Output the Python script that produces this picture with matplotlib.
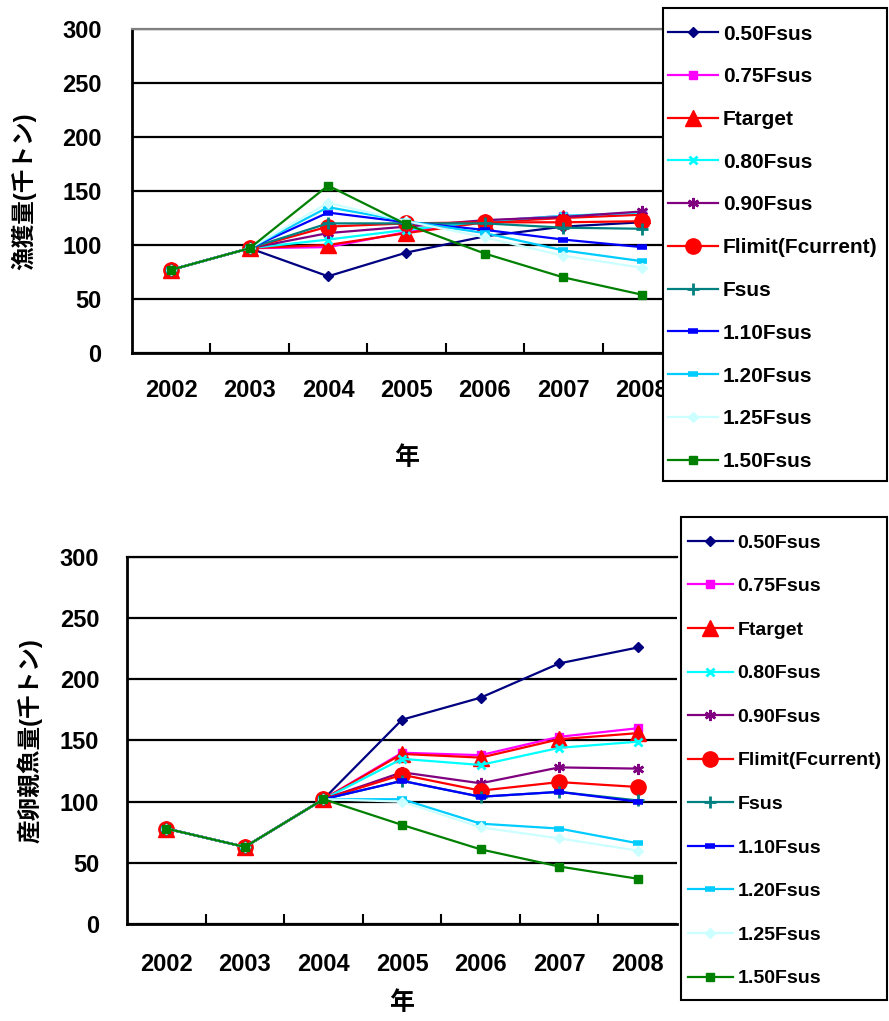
import numpy as np
import matplotlib
matplotlib.use('Agg')
import matplotlib.pyplot as plt
from matplotlib.patches import Rectangle

plt.rcParams['font.family'] = ['Liberation Sans', 'Noto Sans CJK JP', 'DejaVu Sans']

#------------------------------------------------------------------------------
# data
years = ['2002', '2003', '2004', '2005', '2006', '2007', '2008']
names = ['0.50Fsus', '0.75Fsus', 'Ftarget', '0.80Fsus', '0.90Fsus',
         'Flimit(Fcurrent)', 'Fsus', '1.10Fsus', '1.20Fsus', '1.25Fsus', '1.50Fsus']

# catch (thousand t)
catch_050 = [77, 97, 71, 93, 108, 117, 121]
catch_075 = [77, 97, 98, 112, 122, 127, 129]
catch_ftg = [77, 97, 100, 111, 121, 125, 128]
catch_080 = [77, 97, 105, 114, 122, 127, 130]
catch_090 = [77, 97, 111, 117, 123, 126, 131]
catch_flm = [77, 97, 117, 120, 121, 121, 122]
catch_fsus = [77, 97, 120, 120, 120, 116, 115]
catch_110 = [77, 97, 130, 121, 114, 105, 98]
catch_120 = [77, 97, 135, 122, 111, 95, 85]
catch_125 = [77, 97, 139, 122, 107, 90, 79]
catch_150 = [77, 97, 155, 119, 92, 70, 54]

# spawning stock biomass (thousand t)
ssb_050 = [78, 63, 102, 167, 185, 213, 226]
ssb_075 = [78, 63, 102, 140, 138, 153, 160]
ssb_ftg = [78, 63, 102, 139, 136, 151, 156]
ssb_080 = [78, 63, 102, 135, 130, 144, 149]
ssb_090 = [78, 63, 102, 124, 115, 128, 127]
ssb_flm = [78, 63, 102, 122, 109, 116, 112]
ssb_fsus = [78, 63, 102, 117, 104, 108, 101]
ssb_110 = [78, 63, 102, 117, 104, 108, 100]
ssb_120 = [78, 63, 102, 102, 82, 78, 66]
ssb_125 = [78, 63, 102, 100, 79, 70, 60]
ssb_150 = [78, 63, 102, 81, 61, 47, 37]

catch = [catch_050, catch_075, catch_ftg, catch_080, catch_090, catch_flm,
         catch_fsus, catch_110, catch_120, catch_125, catch_150]
ssb = [ssb_050, ssb_075, ssb_ftg, ssb_080, ssb_090, ssb_flm,
       ssb_fsus, ssb_110, ssb_120, ssb_125, ssb_150]

# excel style series formats
styles = [
    dict(color='#000080', marker='D', ms=5),
    dict(color='#FF00FF', marker='s', ms=6),
    dict(color='#FF0000', marker='^', ms=11),
    dict(color='#00FFFF', marker='x', ms=6, mew=2),
    dict(color='#800080', marker=(6, 2, 0), ms=8, mew=1.8),
    dict(color='#FF0000', marker='o', ms=11),
    dict(color='#008080', marker='+', ms=8, mew=2),
    dict(color='#0000FF', marker='_', ms=7, mew=4),
    dict(color='#00CCFF', marker='_', ms=7, mew=4),
    dict(color='#CCFFFF', marker='D', ms=5),
    dict(color='#008000', marker='s', ms=6),
]

#------------------------------------------------------------------------------
W, H = 889, 1021
fig = plt.figure(figsize=(W / 100, H / 100), dpi=100)

ax1 = fig.add_axes([0.1485, 0.6543, 0.6175, 0.3173])
ax2 = fig.add_axes([0.1429, 0.0950, 0.6187, 0.3595])

x = np.arange(len(years))


def draw(ax, data, ylabel, toplinecolor, xpad, ypad, xlab_y, ylab_x):
    lines = []
    for vals, lab, st in zip(data, names, styles):
        l, = ax.plot(x, vals, lw=1.6, label=lab, **st)
        lines.append(l)
    ax.set_xlim(-0.5, 6.5)
    ax.set_ylim(0, 300)
    ax.set_yticks(range(0, 301, 50))
    ax.set_xticks(x)
    ax.set_xticklabels(years)
    ax.set_xticks(np.arange(0.5, 6.5, 1), minor=True)
    ax.tick_params(axis='x', which='major', length=0, pad=xpad, labelsize=17)
    ax.tick_params(axis='x', which='minor', direction='in', length=7, width=1.5)
    ax.tick_params(axis='y', length=0, pad=ypad, labelsize=17)
    for t in ax.get_xticklabels() + ax.get_yticklabels():
        t.set_fontweight('bold')
    ax.yaxis.grid(True, color='black', lw=1.6)
    ax.set_axisbelow(True)
    for s in ['left', 'bottom']:
        ax.spines[s].set_linewidth(2)
        ax.spines[s].set_color('black')
    ax.spines['top'].set_color(toplinecolor)
    ax.spines['top'].set_linewidth(1.6)
    ax.spines['right'].set_visible(False)
    ax.set_xlabel('年', fontsize=18, fontweight='bold', va='center')
    ax.xaxis.set_label_coords(0.5, xlab_y)
    ax.set_ylabel(ylabel, fontsize=17, fontweight='bold', va='center')
    ax.yaxis.set_label_coords(ylab_x, 0.5)
    return lines


l1 = draw(ax1, catch, '漁獲量(千トン)', '#808080', 19, 22, -0.324, -0.198)
l2 = draw(ax2, ssb, '産卵親魚量(千トン)', 'black', 21, 20, -0.215, -0.176)

# legend boxes (pixel bounds from the reference)
def legend_box(x0, y0, x1, y1):
    r = Rectangle((x0 / W, 1 - y1 / H), (x1 - x0) / W, (y1 - y0) / H,
                  transform=fig.transFigure, facecolor='white',
                  edgecolor='black', lw=1.5, zorder=4)
    fig.add_artist(r)

legend_box(663, 8, 887, 481)
legend_box(681, 517, 887, 1000)

fig.legend(l1, names, loc='upper left', bbox_to_anchor=(668 / W, 1 - 24.5 / H),
           labelspacing=1.14, handlelength=2.4, handletextpad=0.24,
           borderpad=0, borderaxespad=0, frameon=False,
           prop={'weight': 'bold', 'size': 15})

fig.legend(l2, names, loc='upper left', bbox_to_anchor=(688 / W, 1 - 534 / H),
           labelspacing=1.335, handlelength=2.3, handletextpad=0.25,
           borderpad=0, borderaxespad=0, frameon=False,
           prop={'weight': 'bold', 'size': 14})

plt.savefig('out.png', dpi=100)
